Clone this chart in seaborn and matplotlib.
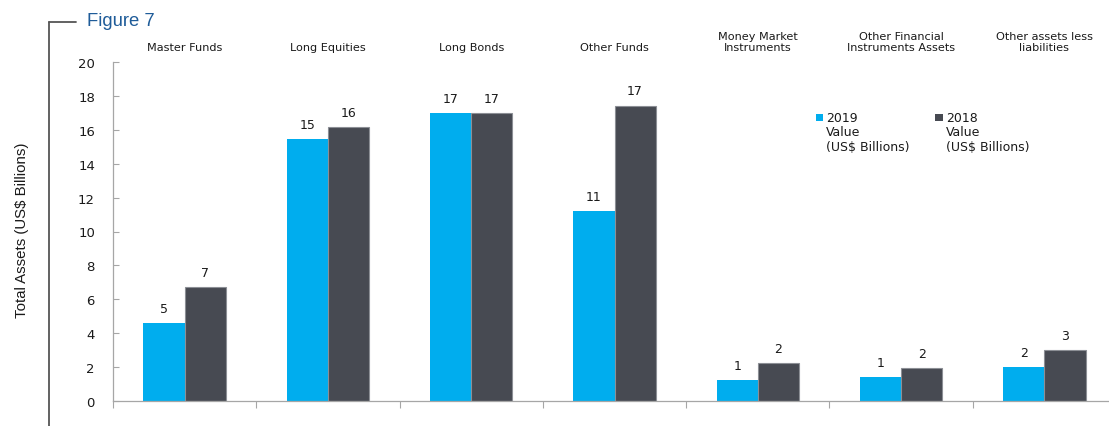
import numpy as np
import pandas as pd
import matplotlib
matplotlib.use("Agg")
import matplotlib.pyplot as plt
from matplotlib.patches import Rectangle
from matplotlib.legend_handler import HandlerPatch
from matplotlib.lines import Line2D
import seaborn as sns

# Asset categories and values (US$ billions)
categories = [
    "Master Funds",
    "Long Equities",
    "Long Bonds",
    "Other Funds",
    "Money Market\nInstruments",
    "Other Financial\nInstruments Assets",
    "Other assets less\nliabilities",
]
values_2019 = [4.6, 15.46, 17.0, 11.2, 1.22, 1.42, 1.99]
values_2018 = [6.73, 16.15, 17.0, 17.42, 2.22, 1.93, 2.99]
series_names = ["2019", "2018"]
legend_labels = ["2019\nValue\n(US$ Billions)", "2018\nValue\n(US$ Billions)"]
y_ticks = [0, 2, 4, 6, 8, 10, 12, 14, 16, 18, 20]

colors = {"2019": "#00ADEE", "2018": "#474A52"}

df = pd.DataFrame({
    "category": categories * 2,
    "series": ["2019"] * len(categories) + ["2018"] * len(categories),
    "value": values_2019 + values_2018,
})

sns.set_style("white")
plt.rcParams["font.family"] = ["DejaVu Sans"]

fig = plt.figure(figsize=(11.09, 4.27), dpi=100)
ax = fig.add_axes([113 / 1109, 25 / 427, 1003 / 1109, 339 / 427])

sns.barplot(
    data=df, x="category", y="value", hue="series",
    hue_order=series_names, order=categories,
    palette=colors, width=0.575, ax=ax, legend=False,
    saturation=1, linewidth=0,
)

# Outline only the dark series
for cont, name in zip(ax.containers, series_names):
    for bar in cont:
        if name == "2018":
            bar.set_edgecolor("#8C8F95")
            bar.set_linewidth(0.8)
        else:
            bar.set_linewidth(0)
    ax.bar_label(cont, fmt="{:.0f}", padding=6, fontsize=9, color="#1a1a1a")

ax.set_ylim(0, 20)
ax.set_xlim(-0.5, len(categories) - 0.5)
ax.set_yticks(y_ticks)
ax.set_yticklabels([str(t) for t in y_ticks])
ax.set_xlabel("")
ax.set_ylabel("")

# Category names above the plot, boundary ticks below
ax.set_xticks(range(len(categories)))
ax.set_xticklabels(categories, fontsize=8.1, color="#1a1a1a", linespacing=1.12)
ax.tick_params(axis="x", which="major", top=False, bottom=False,
               labeltop=True, labelbottom=False, pad=3.5)
ax.set_xticks(np.arange(-0.5, len(categories), 1.0), minor=True)
ax.tick_params(axis="x", which="minor", bottom=True, direction="out",
               length=5, width=0.8, color="#A6A6A6")
ax.tick_params(axis="y", direction="in", length=4, width=0.8, color="#A6A6A6",
               labelsize=9.5, labelcolor="#1a1a1a", pad=13, left=True)

for side in ["top", "right"]:
    ax.spines[side].set_visible(False)
for side in ["left", "bottom"]:
    ax.spines[side].set_color("#A6A6A6")
    ax.spines[side].set_linewidth(0.9)


# Legend squares sit beside the first line of each multi-line label
class FirstLineSquare(HandlerPatch):
    def __init__(self, **kw):
        super().__init__(patch_func=self._square, **kw)

    @staticmethod
    def _square(legend, orig_handle, xdescent, ydescent, width, height, fontsize):
        s = fontsize * 0.62
        y0 = -ydescent + height / 2 - s / 2 + fontsize * 1.2
        return Rectangle((-xdescent + width - s, y0), s, s)


handles = [Rectangle((0, 0), 1, 1, facecolor=colors[n], edgecolor="none") for n in series_names]
leg = ax.legend(
    handles, legend_labels, ncol=2, frameon=False, fontsize=9,
    handler_map={Rectangle: FirstLineSquare()},
    handlelength=0.8, handletextpad=0.25, columnspacing=1.85,
    loc="upper left", bbox_to_anchor=(802 / 1109, 1 - 101 / 427),
    bbox_transform=fig.transFigure, labelspacing=0.2,
)
for t in leg.get_texts():
    t.set_color("#1a1a1a")
    t.set_linespacing(1.12)

# Y-axis title
fig.text(22 / 1109, 1 - 230 / 427, "Total Assets (US$ Billions)", rotation=90,
         ha="center", va="center", fontsize=10.8, family="Liberation Sans",
         color="#1a1a1a")

# Figure frame bracket and caption
fig.add_artist(Line2D([49 / 1109, 49 / 1109], [0, 1 - 23 / 427],
                      transform=fig.transFigure, color="#555555", lw=1.3))
fig.add_artist(Line2D([49 / 1109, 76 / 1109], [1 - 23 / 427, 1 - 23 / 427],
                      transform=fig.transFigure, color="#555555", lw=1.3))
fig.text(87 / 1109, 1 - 26 / 427, "Figure 7", ha="left", va="baseline",
         fontsize=13.3, family="Liberation Sans", color="#1F5C99")

fig.savefig("out.png", dpi=100)
